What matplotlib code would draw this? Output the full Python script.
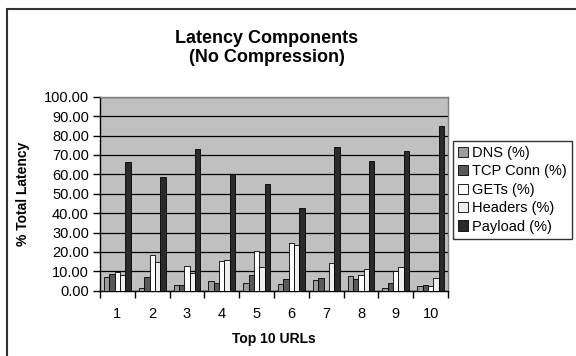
import matplotlib
matplotlib.use('Agg')
import matplotlib.pyplot as plt
import matplotlib.patches as patches
import numpy as np

plt.rcParams['font.family'] = ['Liberation Sans', 'DejaVu Sans']

urls = ['1', '2', '3', '4', '5', '6', '7', '8', '9', '10']
dns = [6.9, 1.4, 2.7, 5.0, 3.8, 3.3, 5.3, 7.4, 1.2, 2.4]
tcp_conn = [8.6, 6.9, 2.9, 4.0, 8.2, 5.8, 6.7, 6.2, 4.1, 2.9]
gets = [9.8, 18.4, 12.7, 15.3, 20.4, 24.4, 0.0, 7.9, 10.1, 2.6]
headers = [7.9, 14.9, 8.9, 15.8, 12.0, 23.5, 14.1, 11.2, 12.0, 6.7]
payload = [66.5, 58.4, 73.0, 60.0, 55.0, 42.6, 73.9, 67.0, 72.0, 84.9]

series = [
    ('DNS (%)', dns, '#9c9c9c'),
    ('TCP Conn (%)', tcp_conn, '#595959'),
    ('GETs (%)', gets, '#ffffff'),
    ('Headers (%)', headers, '#efefef'),
    ('Payload (%)', payload, '#2a2a2a'),
]

W, H = 576, 356
fig = plt.figure(figsize=(W / 100, H / 100), dpi=100)
fig.patch.set_facecolor('white')

# outer chart border (runs off the right and bottom edges)
fig.add_artist(patches.Rectangle((7 / W, -0.1), 1.1, 1.1 - 9 / H, transform=fig.transFigure,
                                 fill=False, edgecolor='#333333', linewidth=1.5))

ax = fig.add_axes([100 / W, (H - 290.7) / H, 348 / W, 194 / H])
ax.set_facecolor('#c0c0c0')

x = np.arange(1, len(urls) + 1)
bw = 0.153
for i, (name, vals, col) in enumerate(series):
    ax.bar(x + (i - 2) * bw, vals, width=bw, color=col, edgecolor='black',
           linewidth=0.6, label=name, zorder=3)

ax.set_xlim(0.5, 10.5)
ax.set_ylim(0, 100)
ax.set_yticks(np.arange(0, 101, 10))
ax.set_yticklabels([f'{v:.2f}' for v in np.arange(0, 101, 10)], fontsize=10.5)
ax.yaxis.grid(True, color='black', linewidth=0.9, zorder=1)
ax.set_axisbelow(True)

ax.set_xticks(np.arange(0.5, 10.6, 1))
ax.set_xticklabels([])
ax.set_xticks(x, minor=True)
ax.set_xticklabels(urls, minor=True, fontsize=10.5)
ax.tick_params(axis='x', which='minor', length=0, pad=12)
ax.tick_params(axis='x', which='major', length=5, direction='out', width=1)
ax.tick_params(axis='y', length=5, direction='out', width=1, pad=3)

for side in ['top', 'right']:
    ax.spines[side].set_color('#808080')
    ax.spines[side].set_linewidth(1)
for side in ['left', 'bottom']:
    ax.spines[side].set_color('black')
    ax.spines[side].set_linewidth(1)

ax.set_xlabel('Top 10 URLs', fontsize=10, fontweight='bold', labelpad=8)
ax.set_ylabel('% Total Latency', fontsize=10, fontweight='bold', labelpad=10)

fig.text(267 / W, 1 - 48 / H, 'Latency Components\n(No Compression)', ha='center', va='center',
         fontsize=13, fontweight='bold', linespacing=1.2)

leg = fig.legend(loc='upper left', bbox_to_anchor=(453 / W, 1 - 141 / H), fontsize=10.5,
                 frameon=True, fancybox=False, edgecolor='black', borderaxespad=0,
                 handlelength=0.7, handleheight=0.7, handletextpad=0.25, labelspacing=0.3,
                 borderpad=0.35)
leg.get_frame().set_linewidth(1)

fig.savefig('out.png', dpi=100)
